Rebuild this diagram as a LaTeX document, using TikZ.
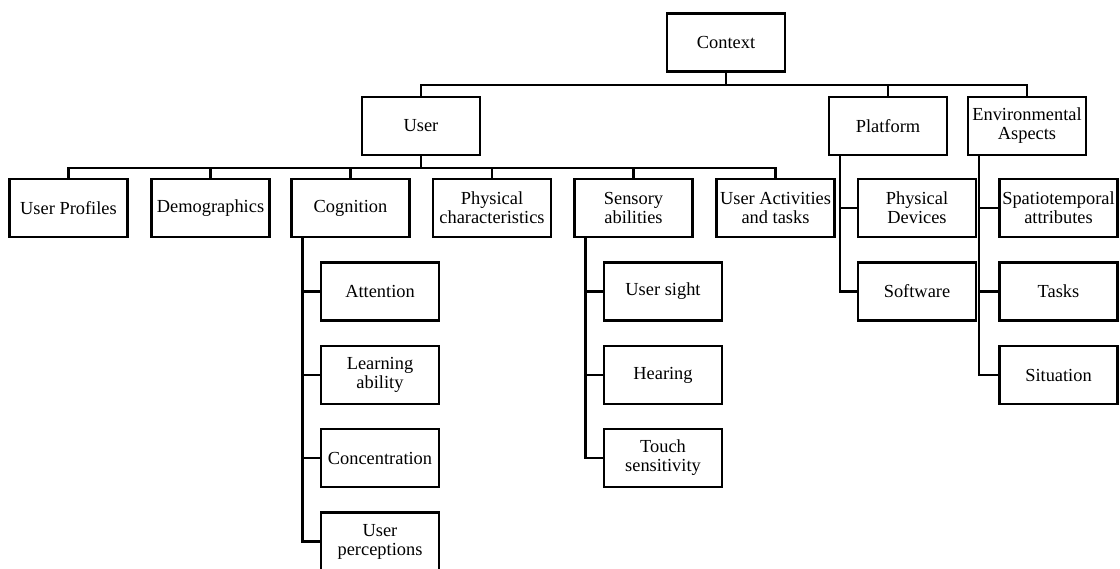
\documentclass[tikz,border=0pt]{standalone}
\usepackage{fontspec}
\setmainfont{Liberation Serif}
\usetikzlibrary{calc}
\begin{document}
\begin{tikzpicture}[x=0.75pt,y=-0.75pt,
  box/.style={draw, line width=1.7pt, minimum width=88.5pt, minimum height=43.5pt,
    inner sep=0pt, align=center, font=\fontsize{13.8}{14.3}\selectfont},
  link/.style={line width=1.7pt}]
\useasboundingbox (0,0) rectangle (1120,568);

% root and first level
\node[box] (ctx)  at (726,42.5) {Context};
\node[box] (user) at (421,126)  {User};
\node[box] (plat) at (888,126)  {Platform};
\node[box] (env)  at (1027,126) {Environmental\\Aspects};

% user facets
\node[box] (prof) at (68.5,208)  {User Profiles};
\node[box] (demo) at (210.5,208) {Demographics};
\node[box] (cog)  at (350.5,208) {Cognition};
\node[box] (phys) at (492,208)   {Physical\\characteristics};
\node[box] (sens) at (633.5,208) {Sensory\\abilities};
\node[box] (act)  at (775.5,208) {User Activities\\and tasks};

% cognition
\node[box] (att)   at (380,291.5) {Attention};
\node[box] (learn) at (380,375)   {Learning\\ability};
\node[box] (conc)  at (380,458)   {Concentration};
\node[box] (perc)  at (380,541.5) {User\\perceptions};

% sensory abilities
\node[box] (sight) at (663,291.5) {User sight};
\node[box] (hear)  at (663,375)   {Hearing};
\node[box] (touch) at (663,458)   {Touch\\sensitivity};

% platform
\node[box] (pdev) at (917,208)   {Physical\\Devices};
\node[box] (soft) at (917,291.5) {Software};

% environment
\node[box] (spat)  at (1058.5,208)   {Spatiotemporal\\attributes};
\node[box] (tasks) at (1058.5,291.5) {Tasks};
\node[box] (sit)   at (1058.5,375)   {Situation};

% bus connectors
\foreach \c in {user,plat,env}
  \draw[link] (ctx.south) -- ++(0,12) -| (\c.north);
\foreach \c in {prof,demo,cog,phys,sens,act}
  \draw[link] (user.south) -- ++(0,12) -| (\c.north);

% side spines
\foreach \c in {att,learn,conc,perc}
  \draw[link] ([xshift=9pt]cog.south west) |- (\c.west);
\foreach \c in {sight,hear,touch}
  \draw[link] ([xshift=9pt]sens.south west) |- (\c.west);
\foreach \c in {pdev,soft}
  \draw[link] ([xshift=9pt]plat.south west) |- (\c.west);
\foreach \c in {spat,tasks,sit}
  \draw[link] ([xshift=9pt]env.south west) |- (\c.west);
\end{tikzpicture}
\end{document}
